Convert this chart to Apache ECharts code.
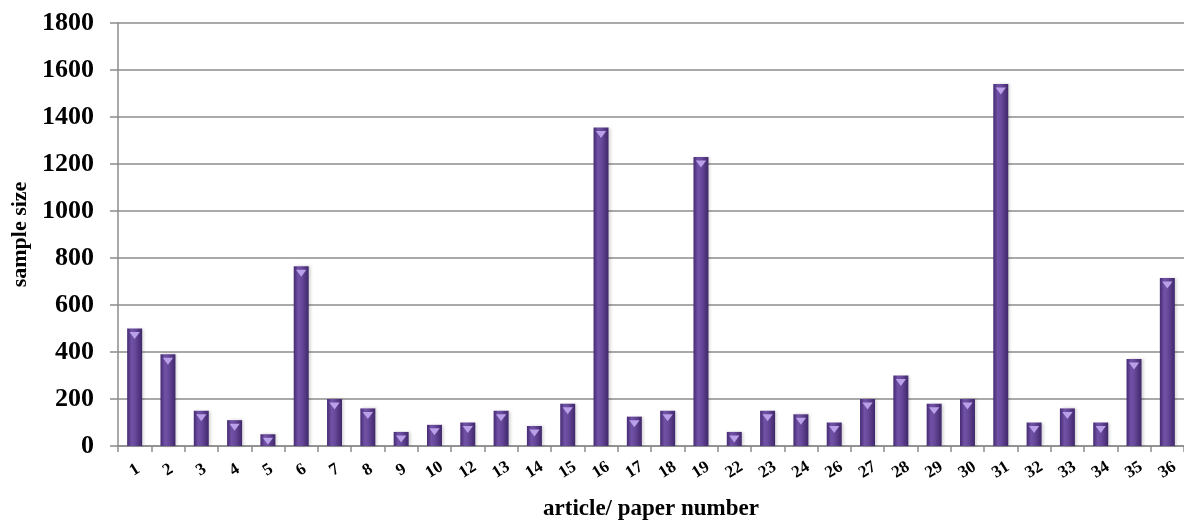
<!DOCTYPE html>
<html>
<head>
<meta charset="utf-8">
<script src="https://cdn.jsdelivr.net/npm/echarts@6/dist/echarts.min.js"></script>
<style>
  html, body { margin: 0; padding: 0; background: #fff; }
  #chart { width: 1184px; height: 522px; }
</style>
</head>
<body>
<div id="chart"></div>
<script>
// Article / paper numbers along the x axis
const papers = ['1','2','3','4','5','6','7','8','9','10','12','13','14','15','16','17','18','19',
  '22','23','24','26','27','28','29','30','31','32','33','34','35','36'];
// Sample size reported by each paper
const sampleSizes = [500, 390, 150, 110, 50, 765, 200, 160, 60, 90, 100, 150, 85, 180, 1355, 125, 150, 1230,
  60, 150, 135, 100, 200, 300, 180, 200, 1540, 100, 160, 100, 370, 715];

const serif = '"Liberation Serif", "Times New Roman", serif';
const gridColor = '#8c8c8c';

const chart = echarts.init(document.getElementById('chart'), null, { renderer: 'canvas' });

chart.setOption({
  animation: false,
  backgroundColor: '#ffffff',
  grid: { left: 118, right: 0, top: 23, bottom: 76, containLabel: false, outerBoundsMode: 'none' },
  xAxis: {
    type: 'category',
    data: papers,
    name: 'article/ paper number',
    nameLocation: 'middle',
    nameGap: 52,
    nameTextStyle: { fontFamily: serif, fontWeight: 'bold', fontSize: 23, color: '#000' },
    axisLine: { lineStyle: { color: gridColor, width: 1.5 } },
    axisTick: { show: true, length: 6, lineStyle: { color: gridColor, width: 1.5 } },
    axisLabel: {
      interval: 0, rotate: 32, margin: 24,
      align: 'center', verticalAlign: 'middle',
      fontFamily: serif, fontWeight: 'bold', fontSize: 17, color: '#000'
    }
  },
  yAxis: {
    type: 'value',
    min: 0, max: 1800, interval: 200,
    name: 'sample size',
    nameLocation: 'middle',
    nameRotate: 90,
    nameGap: 86,
    nameTextStyle: { fontFamily: serif, fontWeight: 'bold', fontSize: 22, color: '#000' },
    axisLine: { show: true, lineStyle: { color: gridColor, width: 1.5 } },
    axisTick: { show: true, length: 8, lineStyle: { color: gridColor, width: 1.5 } },
    axisLabel: {
      margin: 24, fontFamily: serif, fontWeight: 'bold', fontSize: 26, color: '#000',
      formatter: v => String(v)
    },
    splitLine: { show: true, lineStyle: { color: gridColor, width: 1.5 } }
  },
  series: [
    {
      type: 'bar',
      data: sampleSizes,
      barWidth: '45%',
      itemStyle: {
        color: new echarts.graphic.LinearGradient(0, 0, 1, 0, [
          { offset: 0, color: '#452a72' },
          { offset: 0.3, color: '#7152a6' },
          { offset: 0.55, color: '#664799' },
          { offset: 1, color: '#40276a' }
        ]),
        shadowColor: 'rgba(0,0,0,0.18)',
        shadowBlur: 3,
        shadowOffsetX: 2
      },
      z: 2
    },
    {
      // light bevelled cap on the top of every bar
      type: 'pictorialBar',
      data: sampleSizes,
      symbol: 'triangle',
      symbolRotate: 180,
      symbolSize: ['45%', 7],
      symbolPosition: 'end',
      symbolOffset: [0, '50%'],
      itemStyle: { color: '#b9a0e8' },
      z: 3
    }
  ]
});
</script>
</body>
</html>
